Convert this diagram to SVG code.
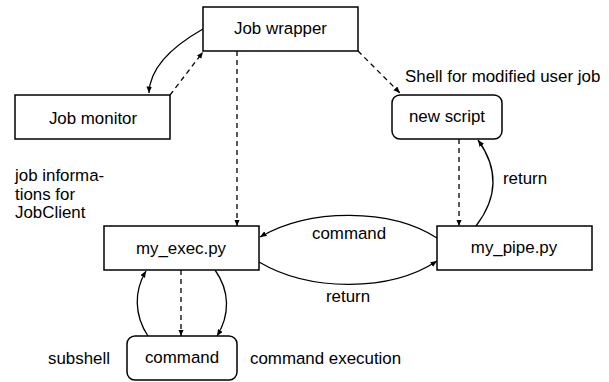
<svg xmlns="http://www.w3.org/2000/svg" width="609" height="382" viewBox="0 0 609 382">
  <style>
    .box { fill: #ffffff; stroke: #000000; stroke-width: 1.5; }
    .lbl { font-family: "Liberation Sans", Arial, Helvetica, sans-serif; font-size: 16.9px; fill: #000000; }
    .mid { text-anchor: middle; }
    .edge { fill: none; stroke: #000000; stroke-width: 1.3; marker-end: url(#arrow); }
    .dash { stroke-dasharray: 5 4; }
  </style>
  <defs>
    <marker id="arrow" markerUnits="userSpaceOnUse" markerWidth="7" markerHeight="6" refX="6.5" refY="2.75" orient="auto">
      <path d="M0,0 L6.5,2.75 L0,5.5 z" fill="#000000"/>
    </marker>
  </defs>
  <rect width="609" height="382" fill="#ffffff"/>

  <g id="connectors">
    <path class="edge" d="M203,29 Q150,59 149,93"/>
    <path class="edge dash" d="M170,95 L203,52"/>
    <path class="edge dash" d="M237,51 L237,226"/>
    <path class="edge dash" d="M358,51 L400,93"/>
    <path class="edge dash" d="M459,139 L459,226"/>
    <path class="edge" d="M476,226 Q509,183 478,140"/>
    <path class="edge" d="M437,238 C390,208 310,208 260,237"/>
    <path class="edge" d="M259,262 C310,292 390,292 437,261"/>
    <path class="edge dash" d="M181,270 L181,336"/>
    <path class="edge" d="M148,336 C134,315 134,291 146,271"/>
    <path class="edge" d="M215,270 C230,291 230,315 217,336"/>
  </g>

  <g id="job-wrapper">
    <rect class="box" x="203" y="7" width="155" height="44"/>
    <text class="lbl mid" x="280.5" y="34">Job wrapper</text>
  </g>
  <g id="job-monitor">
    <rect class="box" x="15" y="95" width="155" height="44"/>
    <text class="lbl mid" x="93" y="124">Job monitor</text>
  </g>
  <g id="new-script">
    <rect class="box" x="392" y="95" width="110" height="44" rx="8" ry="8"/>
    <text class="lbl mid" x="447" y="122">new script</text>
  </g>
  <g id="my-exec">
    <rect class="box" x="104" y="226" width="155" height="44"/>
    <text class="lbl mid" x="181" y="254">my_exec.py</text>
  </g>
  <g id="my-pipe">
    <rect class="box" x="437" y="226" width="155" height="44"/>
    <text class="lbl mid" x="514" y="253">my_pipe.py</text>
  </g>
  <g id="command">
    <rect class="box" x="127" y="336" width="110" height="44" rx="8" ry="8"/>
    <text class="lbl mid" x="182" y="363">command</text>
  </g>

  <g id="labels">
    <text class="lbl" x="405" y="82">Shell for modified user job</text>
    <text class="lbl" x="503" y="184">return</text>
    <text class="lbl" x="312" y="239">command</text>
    <text class="lbl" x="326" y="302">return</text>
    <text class="lbl" x="48" y="364">subshell</text>
    <text class="lbl" x="250" y="364">command execution</text>
    <text class="lbl" x="15" y="181">job informa-</text>
    <text class="lbl" x="15" y="200">tions for</text>
    <text class="lbl" x="15" y="218">JobClient</text>
  </g>
</svg>
